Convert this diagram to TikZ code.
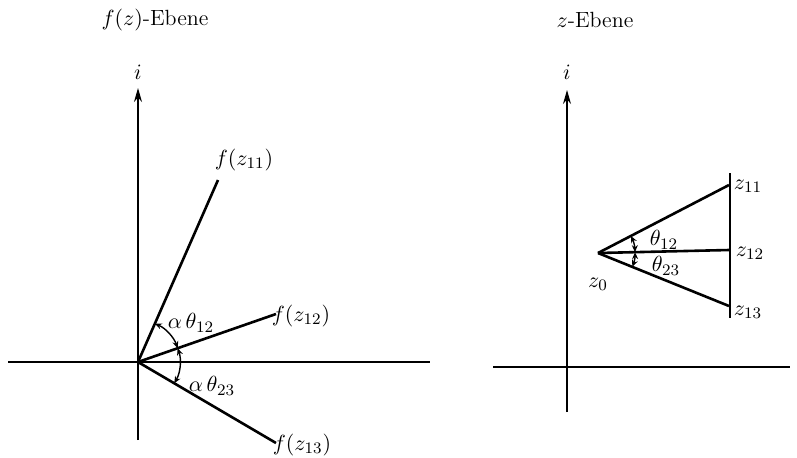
\documentclass[tikz,border=0pt]{standalone}
\usetikzlibrary{arrows.meta}
\begin{document}
\begin{tikzpicture}[x=0.5pt,y=-0.5pt,
  axis/.style={line width=0.6pt},
  axisarrow/.style={axis,-{Stealth[length=7pt,width=4pt]}},
  ray/.style={line width=1.3pt},
  anglearc/.style={line width=0.7pt,{Stealth[length=3.5pt,width=3pt]}-{Stealth[length=3.5pt,width=3pt]}},
  lab/.style={font=\fontsize{11}{13}\selectfont,inner sep=1pt}]
\useasboundingbox (0,0) rectangle (797,457);
% ---------- left: f(z)-plane ----------
\node[lab] (t1) at (155,20) {$f(z)$-Ebene};
\coordinate (O) at (138,362);
\coordinate (Lb) at (138,440);
\coordinate (Lt) at (138,88);
\coordinate (Ll) at (8,362);
\coordinate (Lr) at (430,362);
\node[lab] (i1) at (138,72) {$i$};
\draw[axisarrow] (Lb) -- (Lt);
\draw[axis] (Ll) -- (Lr);
\coordinate (A) at (218,180);
\coordinate (B) at (276,314);
\coordinate (C) at (276,443);
\draw[ray] (O) -- (A);
\draw[ray] (O) -- (B);
\draw[ray] (O) -- (C);
\node[lab] (fA) at (244,160) {$f(z_{11})$};
\node[lab] (fB) at (301,316) {$f(z_{12})$};
\node[lab] (fC) at (302,445) {$f(z_{13})$};
\draw[anglearc] (O) ++(-66.3:42) arc[start angle=-66.3, end angle=-19.2, radius=42];
\draw[anglearc] (O) ++(-19.2:42) arc[start angle=-19.2, end angle=30.4, radius=42];
\node[lab] (a12) at (191,323) {$\alpha\,\theta_{12}$};
\node[lab] (a23) at (212,386) {$\alpha\,\theta_{23}$};
% ---------- right: z-plane ----------
\node[lab] (t2) at (595,20) {$z$-Ebene};
\coordinate (Rb) at (567,412);
\coordinate (Rt) at (567,90);
\coordinate (Rl) at (493,367);
\coordinate (Rr) at (790,367);
\node[lab] (i2) at (567,72) {$i$};
\draw[axisarrow] (Rb) -- (Rt);
\draw[axis] (Rl) -- (Rr);
\coordinate (Z0) at (598,253);
\coordinate (Z11) at (729,185);
\coordinate (Z12) at (729,250);
\coordinate (Z13) at (729,306);
\coordinate (Vt) at (730,173);
\coordinate (Vb) at (730,318);
\draw[axis] (Vt) -- (Vb);
\draw[ray] (Z0) -- (Z11);
\draw[ray] (Z0) -- (Z12);
\draw[ray] (Z0) -- (Z13);
\draw[anglearc] (Z0) ++(-27.4:37) arc[start angle=-27.4, end angle=-1.3, radius=37];
\draw[anglearc] (Z0) ++(-1.3:37) arc[start angle=-1.3, end angle=22, radius=37];
\node[lab] (th12) at (664,240) {$\theta_{12}$};
\node[lab] (th23) at (666,266) {$\theta_{23}$};
\node[lab] (l0) at (598,284) {$z_0$};
\node[lab] (l11) at (748,186) {$z_{11}$};
\node[lab] (l12) at (750,253) {$z_{12}$};
\node[lab] (l13) at (748,312) {$z_{13}$};
\end{tikzpicture}
\end{document}
